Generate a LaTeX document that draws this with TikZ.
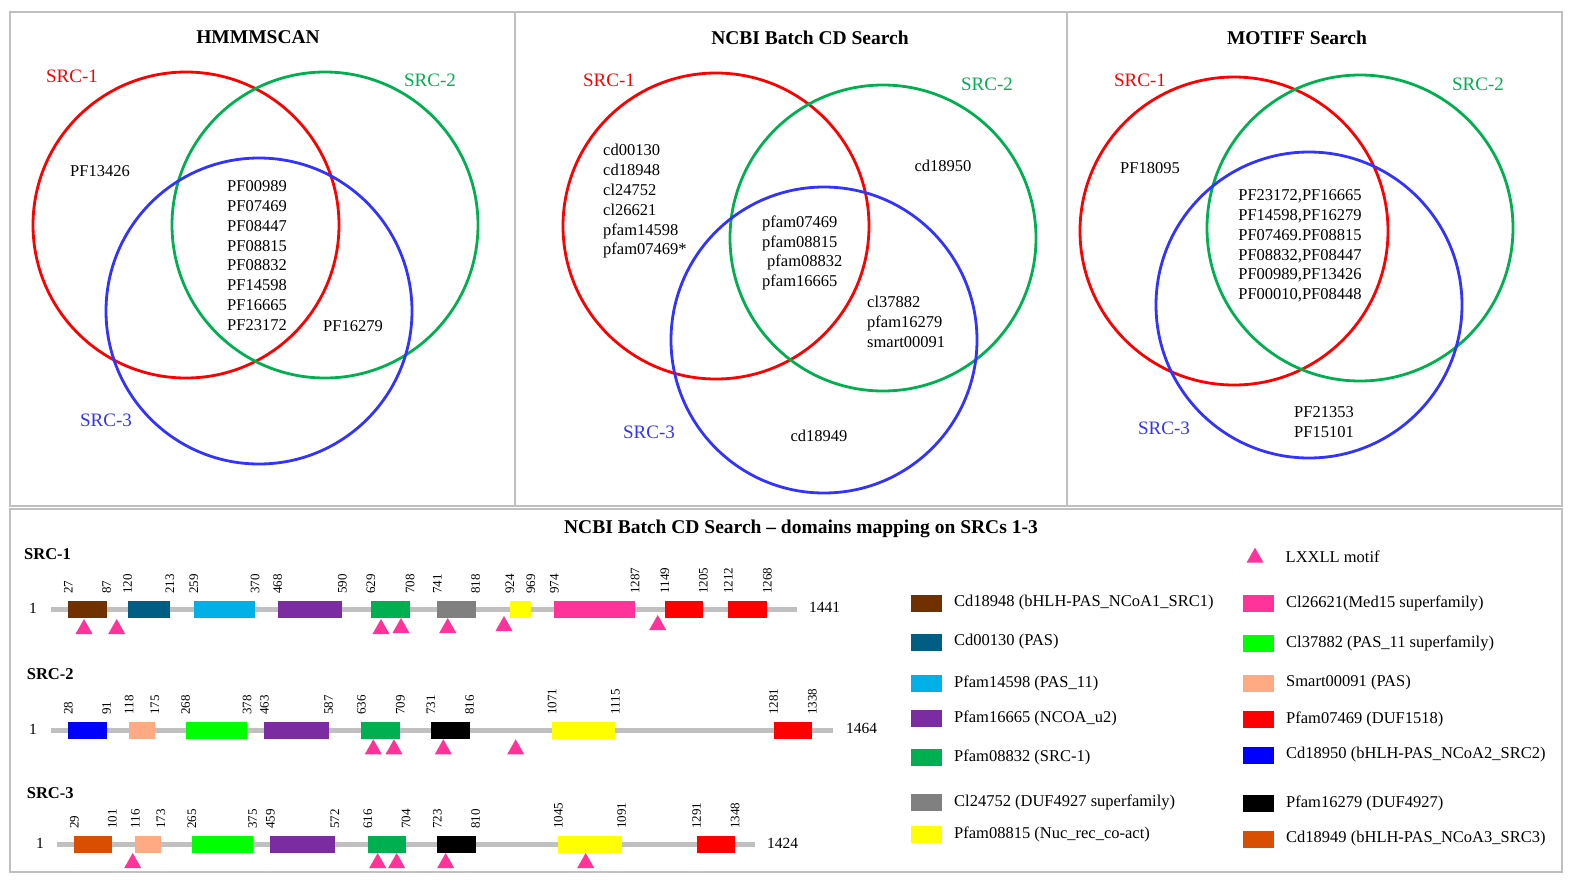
\documentclass[tikz,border=0pt]{standalone}
\usepackage{fontspec}
\setmainfont{Liberation Serif}
\definecolor{framegray}{RGB}{192,192,192}
\definecolor{backgray}{RGB}{192,192,192}
\definecolor{vred}{RGB}{255,0,0}
\definecolor{vgreen}{RGB}{0,176,80}
\definecolor{vblue}{RGB}{51,51,255}
\definecolor{cbrown}{RGB}{112,48,0}
\definecolor{cteal}{RGB}{0,94,132}
\definecolor{ccyan}{RGB}{0,176,230}
\definecolor{cpurple}{RGB}{122,44,160}
\definecolor{cgreen}{RGB}{0,176,80}
\definecolor{cgray}{RGB}{128,128,128}
\definecolor{cyellow}{RGB}{255,255,0}
\definecolor{cpink}{RGB}{255,51,153}
\definecolor{cred}{RGB}{255,0,0}
\definecolor{cblue}{RGB}{0,0,255}
\definecolor{csalmon}{RGB}{255,170,130}
\definecolor{clime}{RGB}{0,255,0}
\definecolor{cblack}{RGB}{0,0,0}
\definecolor{corange}{RGB}{217,78,0}
\tikzset{
  frame/.style={draw=framegray, line width=2.5pt},
  venn/.style={line width=2.8pt},
  vtext/.style={font=\fontsize{16.5}{19.8}\selectfont, inner sep=0pt},
  vtitle/.style={font=\fontsize{19.5}{23}\selectfont\bfseries, inner sep=0pt},
  slabel/.style={font=\fontsize{19}{22}\selectfont, inner sep=0pt},
  numlab/.style={font=\fontsize{13}{15}\selectfont, rotate=90, anchor=west, inner sep=0pt},
  endlab/.style={font=\fontsize{15.5}{17}\selectfont, inner sep=0pt},
  legtext/.style={font=\fontsize{16.5}{18}\selectfont, anchor=west, inner sep=0pt},
  rowlab/.style={font=\fontsize{16.5}{18}\selectfont\bfseries, anchor=west, inner sep=0pt},
  backbone/.style={draw=backgray, line width=5pt},
}
% id, colour, x1, x2, ytop, ybot, label1, label2
\newcommand\dombox[8]{%
  \fill[#2] (#3,#5) rectangle (#4,#6);
  \node[numlab] (#1a) at (#3,{#5-7}) {#7};
  \node[numlab] (#1b) at (#4,{#5-7}) {#8};
}
\newcommand\motif[2]{%
  \fill[cpink] ({#1-8.5},#2) -- ({#1+8.5},#2) -- (#1,{#2-15}) -- cycle;
}
% id, colour, x, y, text
\newcommand\legentry[5]{%
  \fill[#2] (#3,{#4-8.5}) rectangle ({#3+31},{#4+8.5});
  \node[legtext] (#1) at ({#3+43},#4) {#5};
}
\begin{document}
\begin{tikzpicture}[x=1pt,y=-1pt]
\useasboundingbox (0,0) rectangle (1572,884);
\fill[white] (0,0) rectangle (1572,884);

% frames
\draw[frame] (10,12) rectangle (515,506);
\draw[frame] (515,12) rectangle (1067,506);
\draw[frame] (1067,12) rectangle (1562,506);
\draw[frame] (10,509) rectangle (1562,872);

% ---------- Panel 1: HMMMSCAN ----------
\node[vtitle] (t1) at (258,37) {HMMMSCAN};
\draw[venn, vred] (186,225) circle[radius=153];
\draw[venn, vgreen] (325,225) circle[radius=153];
\draw[venn, vblue] (259,311) circle[radius=153];
\node[slabel, text=vred] (a1) at (72,76) {SRC-1};
\node[slabel, text=vgreen] (a2) at (430,80) {SRC-2};
\node[slabel, text=vblue] (a3) at (106,420) {SRC-3};
\node[vtext] (p1a) at (100,171) {PF13426};
\node[vtext, align=center] (p1b) at (257,255.5) {PF00989\\PF07469\\PF08447\\PF08815\\PF08832\\PF14598\\PF16665\\PF23172};
\node[vtext] (p1c) at (353,326) {PF16279};

% ---------- Panel 2: NCBI Batch CD Search ----------
\node[vtitle] (t2) at (810,38) {NCBI Batch CD Search};
\draw[venn, vred] (716,226) circle[radius=153];
\draw[venn, vgreen] (883,238) circle[radius=153];
\draw[venn, vblue] (824,340) circle[radius=153];
\node[slabel, text=vred] (b1) at (609,80) {SRC-1};
\node[slabel, text=vgreen] (b2) at (987,84) {SRC-2};
\node[slabel, text=vblue] (b3) at (649,432) {SRC-3};
\node[vtext, align=left, anchor=west] (p2a) at (603,201.5) {cd00130\\cd18948\\cl24752\\cl26621\\pfam14598\\pfam07469*};
\node[vtext] (p2b) at (943,166) {cd18950};
\node[vtext, align=left, anchor=west] (p2c) at (762,253) {pfam07469\\pfam08815\\\hspace*{5pt}pfam08832\\pfam16665};
\node[vtext, align=left, anchor=west] (p2d) at (867,322) {cl37882\\pfam16279\\smart00091};
\node[vtext] (p2e) at (819,436) {cd18949};

% ---------- Panel 3: MOTIFF Search ----------
\node[vtitle] (t3) at (1297,38) {MOTIFF Search};
\draw[venn, vred] (1234,231) circle[radius=154];
\draw[venn, vgreen] (1360,228) circle[radius=153];
\draw[venn, vblue] (1309,305) circle[radius=153];
\node[slabel, text=vred] (c1) at (1140,80) {SRC-1};
\node[slabel, text=vgreen] (c2) at (1478,84) {SRC-2};
\node[slabel, text=vblue] (c3) at (1164,428) {SRC-3};
\node[vtext] (p3a) at (1150,168) {PF18095};
\node[vtext, align=center] (p3b) at (1300,246) {PF23172,PF16665\\PF14598,PF16279\\PF07469.PF08815\\PF08832,PF08447\\PF00989,PF13426\\PF00010,PF08448};
\node[vtext, align=center] (p3c) at (1324,422) {PF21353\\PF15101};

% ---------- Bottom panel ----------
\node[vtitle] (t4) at (801,529) {NCBI Batch CD Search \textendash{} domains mapping on SRCs 1-3};

% SRC-1
\node[rowlab] (r1) at (24,554) {SRC-1};
\draw[backbone] (51,609) -- (797,609);
\node[endlab] (r1s) at (33,608) {1};
\node[endlab, anchor=west] (r1e) at (809,607) {1441};
\dombox{s1d1}{cbrown}{68.3}{106.7}{600.7}{617.7}{27}{87}
\dombox{s1d2}{cteal}{127.7}{170}{600.7}{617.7}{120}{213}
\dombox{s1d3}{ccyan}{194}{255}{600.7}{617.7}{259}{370}
\dombox{s1d4}{cpurple}{277.7}{342.3}{600.7}{617.7}{468}{590}
\dombox{s1d5}{cgreen}{371}{410}{600.7}{617.7}{629}{708}
\dombox{s1d6}{cgray}{437.3}{475.7}{600.7}{617.7}{741}{818}
\dombox{s1d7}{cyellow}{510}{531}{600.7}{617.7}{924}{969}
\dombox{s1d8}{cpink}{554.3}{635}{600.7}{617.7}{974}{1287}
\dombox{s1d9}{cred}{665}{703.3}{600.7}{617.7}{1149}{1205}
\dombox{s1d10}{cred}{728.3}{767.3}{600.7}{617.7}{1212}{1268}
\motif{84}{634}\motif{116.7}{634}\motif{381}{634}\motif{401}{633}
\motif{447.7}{633}\motif{504}{631}\motif{657.7}{630}

% SRC-2
\node[rowlab] (r2) at (26.7,674) {SRC-2};
\draw[backbone] (51,730.3) -- (833,730.3);
\node[endlab] (r2s) at (33,729) {1};
\node[endlab, anchor=west] (r2e) at (846,728) {1464};
\dombox{s2d1}{cblue}{68.3}{106.7}{721.7}{739}{28}{91}
\dombox{s2d2}{csalmon}{129}{155}{721.7}{739}{118}{175}
\dombox{s2d3}{clime}{185.7}{247}{721.7}{739}{268}{378}
\dombox{s2d4}{cpurple}{264.3}{328.7}{721.7}{739}{463}{587}
\dombox{s2d5}{cgreen}{361.3}{400.3}{721.7}{739}{636}{709}
\dombox{s2d6}{cblack}{431}{469.7}{721.7}{739}{731}{816}
\dombox{s2d7}{cyellow}{552}{615.3}{721.7}{739}{1071}{1115}
\dombox{s2d8}{cred}{773.7}{812.3}{721.7}{739}{1281}{1338}
\motif{373.3}{754.3}\motif{394}{754.3}\motif{443.3}{754.3}\motif{515.7}{754.3}

% SRC-3
\node[rowlab] (r3) at (26.7,793) {SRC-3};
\draw[backbone] (57,844) -- (755,844);
\node[endlab] (r3s) at (40,843) {1};
\node[endlab, anchor=west] (r3e) at (767,843) {1424};
\dombox{s3d1}{corange}{74.3}{112.3}{835.7}{853.3}{29}{101}
\dombox{s3d2}{csalmon}{135.3}{161}{835.7}{853.3}{116}{173}
\dombox{s3d3}{clime}{192}{252.7}{835.7}{853.3}{265}{375}
\dombox{s3d4}{cpurple}{270.3}{335}{835.7}{853.3}{459}{572}
\dombox{s3d5}{cgreen}{368}{406}{835.7}{853.3}{616}{704}
\dombox{s3d6}{cblack}{437.3}{475.7}{835.7}{853.3}{723}{810}
\dombox{s3d7}{cyellow}{558.3}{621.7}{835.7}{853.3}{1045}{1091}
\dombox{s3d8}{cred}{696.7}{735}{835.7}{853.3}{1291}{1348}
\motif{132.7}{868}\motif{377.7}{868}\motif{396.7}{868}\motif{445.7}{868}\motif{585.7}{868}

% Legend
\motif{1255}{562.7}
\node[legtext] (lx) at (1285.5,557) {LXXLL motif};
\legentry{l1}{cbrown}{911}{603}{Cd18948 (bHLH-PAS\_NCoA1\_SRC1)}
\legentry{l2}{cteal}{911}{642}{Cd00130 (PAS)}
\legentry{l3}{ccyan}{911}{683}{Pfam14598 (PAS\_11)}
\legentry{l4}{cpurple}{911}{718}{Pfam16665 (NCOA\_u2)}
\legentry{l5}{cgreen}{911}{757}{Pfam08832 (SRC-1)}
\legentry{l6}{cgray}{911}{802}{Cl24752 (DUF4927 superfamily)}
\legentry{l7}{cyellow}{911}{834}{Pfam08815 (Nuc\_rec\_co-act)}
\legentry{m1}{cpink}{1243}{603}{Cl26621(Med15 superfamily)}
\legentry{m2}{clime}{1243}{643}{Cl37882 (PAS\_11 superfamily)}
\legentry{m3}{csalmon}{1243}{683}{Smart00091 (PAS)}
\legentry{m4}{cred}{1243}{719}{Pfam07469 (DUF1518)}
\legentry{m5}{cblue}{1243}{755}{Cd18950 (bHLH-PAS\_NCoA2\_SRC2)}
\legentry{m6}{cblack}{1243}{803}{Pfam16279 (DUF4927)}
\legentry{m7}{corange}{1243}{839}{Cd18949 (bHLH-PAS\_NCoA3\_SRC3)}
\end{tikzpicture}
\end{document}
